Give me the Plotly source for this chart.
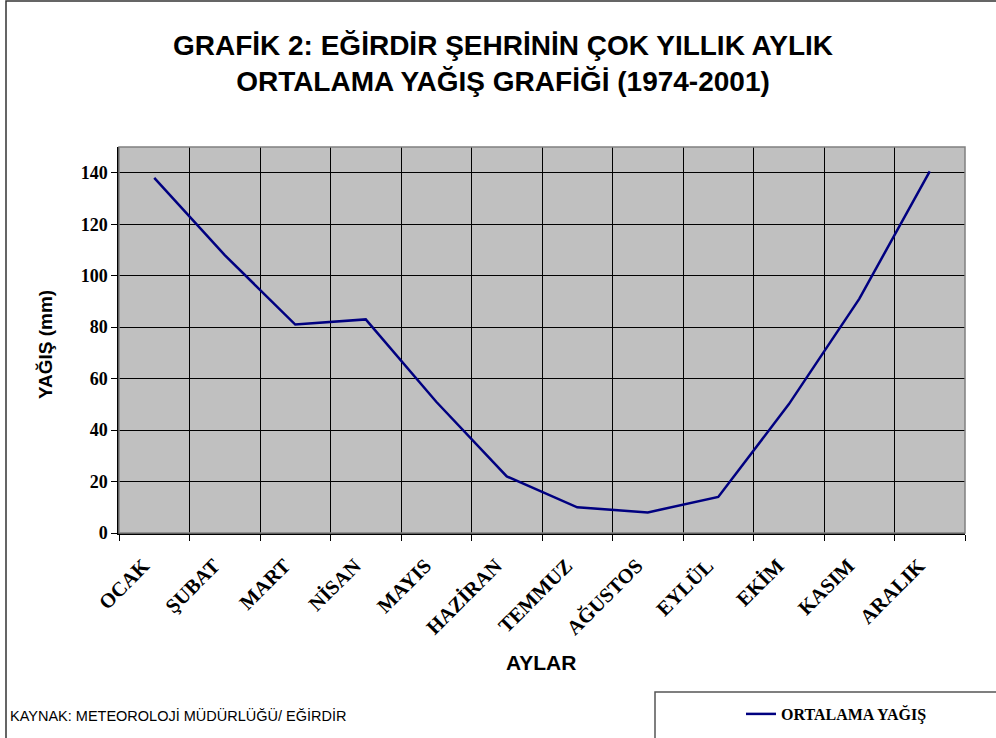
import plotly.graph_objects as go

months = ["OCAK", "ŞUBAT", "MART", "NİSAN", "MAYIS", "HAZİRAN", "TEMMUZ",
          "AĞUSTOS", "EYLÜL", "EKİM", "KASIM", "ARALIK"]
rain = [138, 108, 81, 83, 51, 22, 10, 8, 14, 50, 91, 140.5]
y_ticks = [0, 20, 40, 60, 80, 100, 120, 140]

W, H = 996, 738
L, R, T, B = 119, 965, 147, 533


def px_x(px):
    return (px - L) / (R - L)


def px_y(py):
    return (B - py) / (B - T)


fig = go.Figure()
fig.add_trace(go.Scatter(
    x=months, y=rain, mode="lines", name="ORTALAMA YAĞIŞ",
    line=dict(color="#000080", width=2.5),
))

serif = "Liberation Serif, Times New Roman, serif"
sans = "Liberation Sans, Arial, sans-serif"

fig.update_layout(
    width=W, height=H,
    margin=dict(l=L, r=W - R, t=T, b=H - B, autoexpand=False),
    paper_bgcolor="white",
    plot_bgcolor="#C0C0C0",
    title=dict(
        text="<b>GRAFİK 2: EĞİRDİR ŞEHRİNİN ÇOK YILLIK AYLIK<br>ORTALAMA YAĞIŞ GRAFİĞİ (1974-2001)</b>",
        x=0.505, xref="container", xanchor="center",
        y=1 - 55 / H, yref="container", yanchor="middle",
        font=dict(family=sans, size=28, color="black"),
    ),
    showlegend=True,
    legend=dict(
        x=px_x(741), y=px_y(714), xanchor="left", yanchor="middle",
        bgcolor="rgba(0,0,0,0)", borderwidth=0,
        font=dict(family=serif, size=16, color="black", weight="bold"),
    ),
    xaxis=dict(
        type="category", tickson="boundaries", automargin=False,
        tickvals=months, ticktext=[m + "\u00a0\u00a0\u00a0" for m in months],
        showgrid=True, gridcolor="#000000", gridwidth=1,
        ticks="outside", ticklen=6, tickcolor="black",
        tickangle=-45,
        tickfont=dict(family=serif, size=20.5, color="black", weight="bold"),
        showline=True, linecolor="black", linewidth=1.5,
        range=[-0.5, 11.5],
    ),
    yaxis=dict(
        range=[0, 150], tickvals=y_ticks, automargin=False,
        showgrid=True, gridcolor="#000000", gridwidth=1,
        ticks="outside", ticklen=6, tickcolor="black",
        tickfont=dict(family=serif, size=18, color="black", weight="bold"),
        showline=True, linecolor="black", linewidth=1.5,
        zeroline=False,
    ),
)

fig.add_annotation(
    text="<b>YAĞIŞ (mm)</b>", textangle=-90,
    x=px_x(45), y=px_y(345), xref="paper", yref="paper",
    xanchor="center", yanchor="middle",
    showarrow=False, font=dict(family=sans, size=19, color="black"),
)
fig.add_annotation(
    text="<b>AYLAR</b>",
    x=px_x(541), y=px_y(662), xref="paper", yref="paper",
    xanchor="center", yanchor="middle",
    showarrow=False, font=dict(family=sans, size=21, color="black"),
)
fig.add_annotation(
    text="KAYNAK: METEOROLOJİ MÜDÜRLÜĞÜ/ EĞİRDİR",
    x=px_x(8), y=px_y(715), xref="paper", yref="paper",
    xanchor="left", yanchor="middle",
    showarrow=False, font=dict(family=sans, size=14.5, color="black"),
)

# plot area right/top border (gray)
fig.add_shape(type="rect", xref="paper", yref="paper",
              x0=0, x1=1, y0=0, y1=1,
              line=dict(color="#808080", width=1.5), layer="above")
# outer chart frame
fig.add_shape(type="rect", xref="paper", yref="paper",
              x0=px_x(6), x1=px_x(1005), y0=px_y(1), y1=px_y(750),
              line=dict(color="#333333", width=1.5))
# legend box
fig.add_shape(type="rect", xref="paper", yref="paper",
              x0=px_x(655), x1=px_x(1005), y0=px_y(692), y1=px_y(750),
              line=dict(color="#555555", width=1.5))

fig.write_html("out.html", config={"displayModeBar": False},
               post_script="document.body.style.margin='0';document.body.style.overflow='hidden';")
